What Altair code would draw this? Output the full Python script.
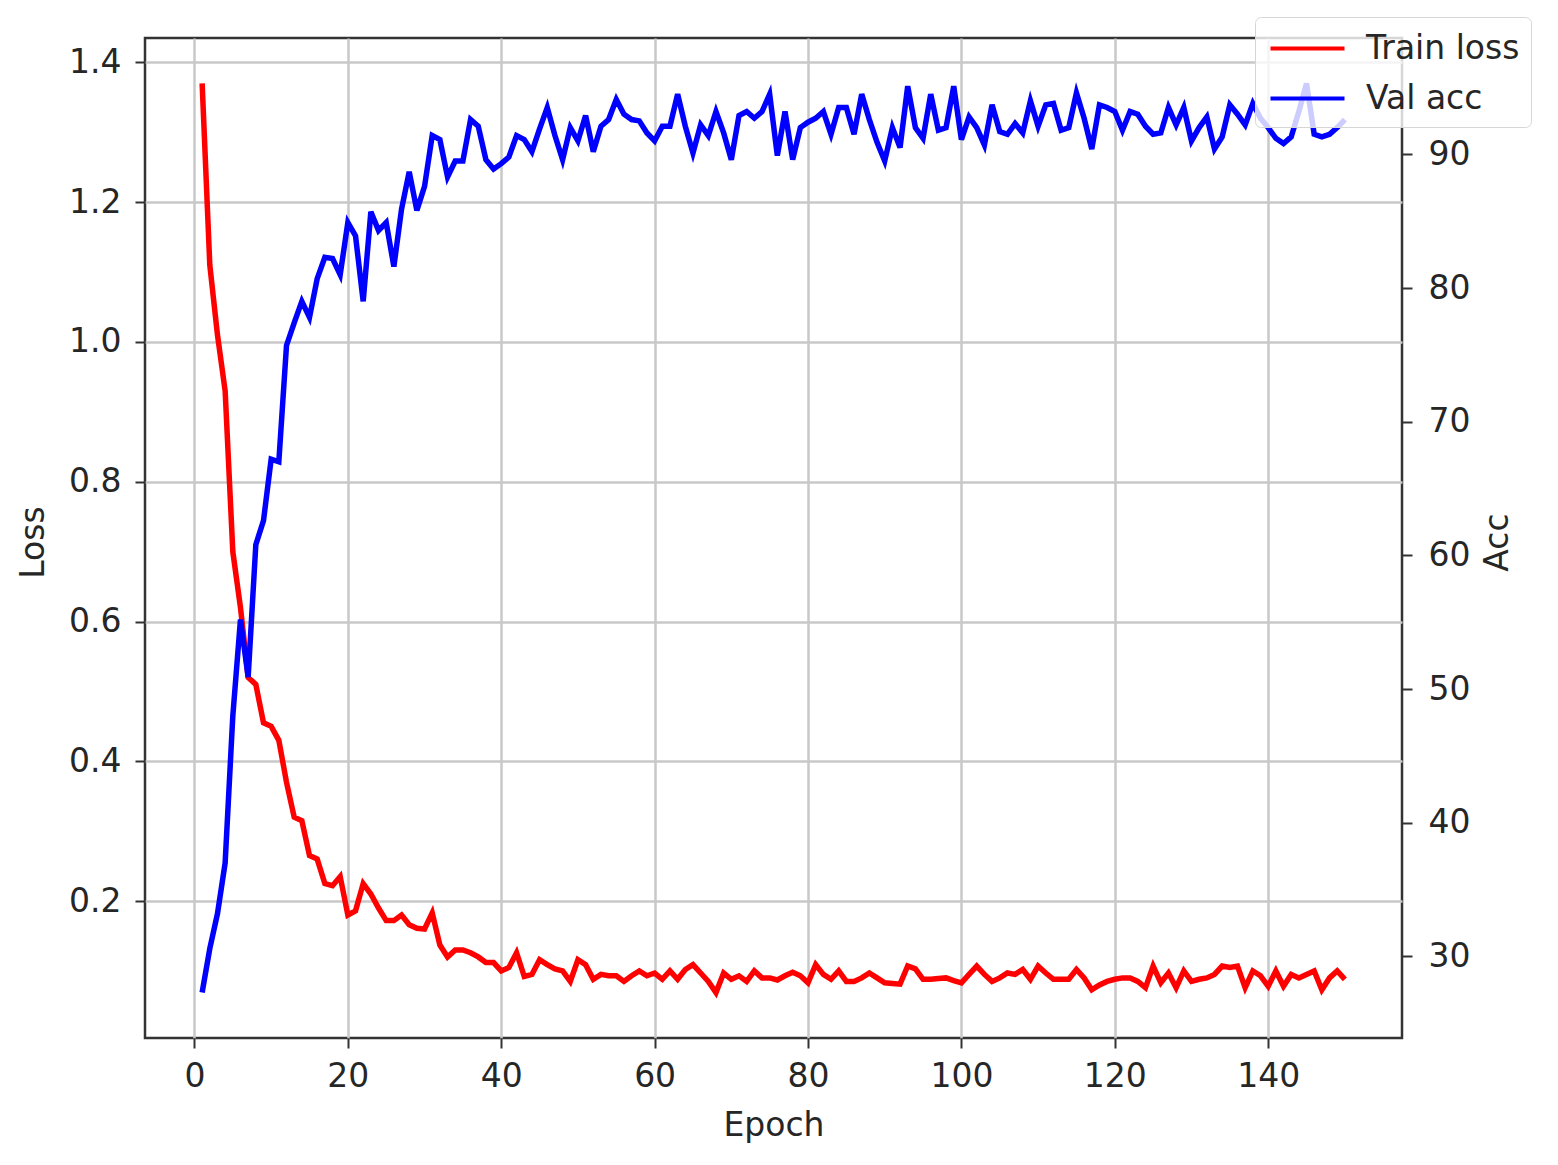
import altair as alt
import pandas as pd

epochs = list(range(1, 151))

train_loss = [
    1.37, 1.11, 1.01, 0.93, 0.70, 0.62, 0.52, 0.51, 0.455, 0.45,
    0.43, 0.37, 0.32, 0.315, 0.265, 0.26, 0.225, 0.222, 0.235, 0.18,
    0.186, 0.225, 0.21, 0.19, 0.172, 0.172, 0.18, 0.166, 0.161, 0.16,
    0.183, 0.137, 0.12, 0.13, 0.13, 0.126, 0.12, 0.112, 0.112, 0.10,
    0.105, 0.126, 0.092, 0.095, 0.116, 0.109, 0.103, 0.100, 0.085, 0.116,
    0.109, 0.088, 0.095, 0.093, 0.093, 0.085, 0.093, 0.100, 0.093, 0.097,
    0.088, 0.100, 0.088, 0.102, 0.109, 0.097, 0.085, 0.069, 0.097, 0.088,
    0.093, 0.085, 0.100, 0.090, 0.090, 0.087, 0.093, 0.098, 0.093, 0.083,
    0.109, 0.095, 0.088, 0.100, 0.085, 0.085, 0.090, 0.097, 0.090, 0.083,
    0.082, 0.081, 0.107, 0.103, 0.088, 0.088, 0.089, 0.090, 0.086, 0.083,
    0.095, 0.107, 0.095, 0.085, 0.090, 0.097, 0.095, 0.102, 0.088, 0.107,
    0.097, 0.088, 0.088, 0.088, 0.102, 0.090, 0.073, 0.080, 0.085, 0.088,
    0.090, 0.090, 0.085, 0.076, 0.107, 0.083, 0.097, 0.076, 0.100, 0.085,
    0.088, 0.090, 0.095, 0.107, 0.105, 0.107, 0.076, 0.100, 0.093, 0.078,
    0.100, 0.078, 0.095, 0.090, 0.095, 0.100, 0.073, 0.090, 0.100, 0.088,
]

val_acc = [
    27.3, 30.6, 33.2, 37.0, 48.0, 55.2, 50.9, 60.8, 62.6, 67.2,
    67.0, 75.7, 77.4, 79.0, 77.8, 80.7, 82.3, 82.2, 81.0, 84.9,
    83.9, 79.0, 85.7, 84.3, 84.9, 81.6, 85.9, 88.7, 85.8, 87.6,
    91.4, 91.1, 88.3, 89.5, 89.5, 92.6, 92.1, 89.6, 88.9, 89.3,
    89.8, 91.4, 91.1, 90.2, 91.9, 93.5, 91.4, 89.6, 92.0, 91.0,
    92.9, 90.2, 92.1, 92.6, 94.1, 93.0, 92.6, 92.5, 91.6, 91.0,
    92.1, 92.1, 94.5, 92.1, 90.1, 92.2, 91.4, 93.2, 91.6, 89.6,
    92.9, 93.2, 92.7, 93.2, 94.5, 89.9, 93.2, 89.6, 92.0, 92.4,
    92.7, 93.2, 91.5, 93.5, 93.5, 91.5, 94.5, 92.6, 90.9, 89.5,
    92.0, 90.5, 95.1, 92.0, 91.2, 94.5, 91.8, 92.0, 95.1, 91.1,
    92.8, 92.0, 90.7, 93.7, 91.7, 91.5, 92.3, 91.6, 94.0, 92.1,
    93.7, 93.8, 91.8, 92.0, 94.6, 92.7, 90.4, 93.7, 93.5, 93.2,
    91.8, 93.2, 93.0, 92.1, 91.5, 91.6, 93.5, 92.2, 93.5, 91.0,
    92.0, 92.8, 90.4, 91.3, 93.7, 93.0, 92.2, 93.8, 92.7, 92.0,
    91.2, 90.8, 91.3, 93.2, 95.3, 91.5, 91.3, 91.5, 92.0, 92.6,
]

series_names = ["Train loss", "Val acc"]
series_colors = ["#ff0000", "#0000ff"]

x_ticks = [0, 20, 40, 60, 80, 100, 120, 140]
loss_ticks = [0.2, 0.4, 0.6, 0.8, 1.0, 1.2, 1.4]
acc_ticks = [30, 40, 50, 60, 70, 80, 90]

loss_df = pd.DataFrame({"Epoch": epochs, "value": train_loss, "series": series_names[0]})
acc_df = pd.DataFrame({"Epoch": epochs, "value": val_acc, "series": series_names[1]})

FONT = "DejaVu Sans"
TXT = "#262626"
FS = 33

color = alt.Color(
    "series:N",
    scale=alt.Scale(domain=series_names, range=series_colors),
    legend=alt.Legend(
        title=None,
        orient="none",
        legendX=1110,
        legendY=-21,
        symbolType="M-2,0L2,0",
        symbolSize=1369,
        symbolStrokeWidth=4,
        symbolOffset=21,
        labelFontSize=FS,
        labelFont=FONT,
        labelColor=TXT,
        labelOffset=38,
        rowPadding=12,
        padding=11,
        fillColor="rgba(255,255,255,0.8)",
        strokeColor="#d6d6d6",
        cornerRadius=6,
    ),
)

x = alt.X(
    "Epoch:Q",
    scale=alt.Scale(domain=[-6.45, 157.45], nice=False, zero=False),
    axis=alt.Axis(values=x_ticks, title="Epoch", grid=True, format="d",
                  labelPadding=12, titleY=97, titleBaseline="alphabetic"),
)

loss = alt.Chart(loss_df).mark_line(strokeWidth=5.5, clip=True).encode(
    x=x,
    y=alt.Y(
        "value:Q",
        scale=alt.Scale(domain=[0.004, 1.435], nice=False, zero=False),
        axis=alt.Axis(values=loss_ticks, format=".1f", title="Loss", orient="left", grid=True,
                      labelPadding=14, titleAngle=270, titleX=-112, titleY=504,
                      titleAlign="center", titleBaseline="middle"),
    ),
    color=color,
)

acc = alt.Chart(acc_df).mark_line(strokeWidth=5.5, clip=True).encode(
    x=x,
    y=alt.Y(
        "value:Q",
        scale=alt.Scale(domain=[23.9, 98.7], nice=False, zero=False),
        axis=alt.Axis(values=acc_ticks, format="d", title="Acc", orient="right", grid=False,
                      labelPadding=16, titleAngle=270, titleX=95, titleY=504,
                      titleAlign="center", titleBaseline="middle"),
    ),
    color=color,
)

chart = (
    alt.layer(loss, acc)
    .resolve_scale(y="independent")
    .properties(
        width=1257,
        height=1000,
        autosize=alt.AutoSizeParams(type="none"),
        padding={"left": 137, "top": 30, "right": 148, "bottom": 119},
        background="white",
    )
    .configure_view(stroke="#333333", strokeWidth=2.5)
    .configure_axis(
        labelFont=FONT,
        titleFont=FONT,
        labelFontSize=FS,
        titleFontSize=FS,
        labelColor=TXT,
        titleColor=TXT,
        titleFontWeight="normal",
        domain=False,
        tickColor="#333333",
        tickWidth=2,
        tickSize=10,
        gridColor="#c8c8c8",
        gridWidth=2.5,
        gridOpacity=1,
    )
)

chart.save("out.html", embed_options={"renderer": "svg", "actions": False})
